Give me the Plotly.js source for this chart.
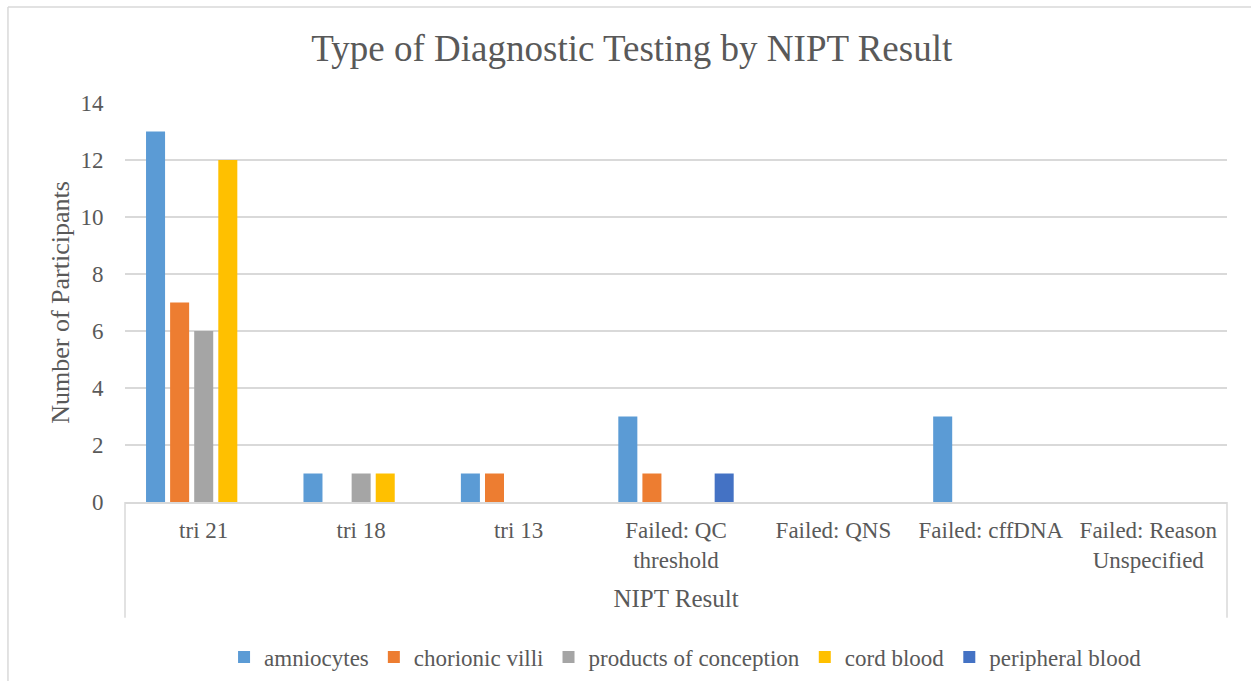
<!DOCTYPE html>
<html>
<head>
<meta charset="utf-8">
<script src="https://cdn.plot.ly/plotly-3.0.1.min.js"></script>
<style>html,body{margin:0;padding:0;background:#fff;}#chart{width:1251px;height:681px;}</style>
</head>
<body>
<div id="chart"></div>
<script>
const categories = ["tri 21", "tri 18", "tri 13", "Failed: QC<br>threshold", "Failed: QNS", "Failed: cffDNA", "Failed: Reason<br>Unspecified"];
const seriesNames = ["amniocytes", "chorionic villi", "products of conception", "cord blood", "peripheral blood"];
const amniocytes = [13, 1, 1, 3, 0, 3, 0];
const chorionicVilli = [7, 0, 1, 1, 0, 0, 0];
const productsOfConception = [6, 1, 0, 0, 0, 0, 0];
const cordBlood = [12, 1, 0, 0, 0, 0, 0];
const peripheralBlood = [0, 0, 0, 1, 0, 0, 0];
const yTicks = [0, 2, 4, 6, 8, 10, 12, 14];

const seriesValues = [amniocytes, chorionicVilli, productsOfConception, cordBlood, peripheralBlood];
const colors = ["#5B9BD5", "#ED7D31", "#A5A5A5", "#FFC000", "#4472C4"];
const FONT = "Liberation Serif";
const TXT = "#595959";
const LINE = "#D9D9D9";

const traces = seriesNames.map((name, i) => ({
  type: "bar",
  name: name,
  x: categories,
  y: seriesValues[i],
  marker: {color: colors[i], line: {width: 0}},
  hoverinfo: "x+y+name"
}));

const layout = {
  width: 1251,
  height: 681,
  paper_bgcolor: "#ffffff",
  plot_bgcolor: "#ffffff",
  margin: {l: 125, r: 24, t: 103, b: 179, pad: 0},
  barmode: "group",
  bargap: 0.235,
  bargroupgap: 0.21,
  font: {family: FONT, color: TXT, size: 23},
  title: {
    text: "Type of Diagnostic Testing by NIPT Result",
    font: {family: FONT, size: 37, color: TXT},
    x: 0.505, xref: "container", xanchor: "center",
    y: 0.93, yref: "container", yanchor: "middle"
  },
  xaxis: {
    type: "category",
    showgrid: false,
    showline: true,
    linecolor: LINE,
    linewidth: 1.5,
    ticks: "outside",
    ticklen: 7,
    tickcolor: "rgba(0,0,0,0)",
    tickfont: {family: FONT, size: 23, color: TXT},
    automargin: false,
    title: {text: "NIPT Result", font: {family: FONT, size: 25, color: TXT}, standoff: 17}
  },
  yaxis: {
    range: [0, 14],
    tickvals: yTicks,
    showgrid: true,
    gridcolor: LINE,
    gridwidth: 1.5,
    zeroline: false,
    showline: false,
    ticks: "outside",
    ticklen: 16,
    tickcolor: "rgba(0,0,0,0)",
    tickfont: {family: FONT, size: 23, color: TXT},
    automargin: false,
    title: {text: "Number of Participants", font: {family: FONT, size: 26, color: TXT}, standoff: 3}
  },
  legend: {
    orientation: "h",
    xref: "container", x: 0.548, xanchor: "center",
    yref: "container", y: 0.035, yanchor: "middle",
    font: {family: FONT, size: 23, color: TXT},
    bgcolor: "rgba(0,0,0,0)",
    itemclick: false
  },
  shapes: [
    {type: "line", xref: "paper", yref: "paper", x0: 0, x1: 0, y0: 0, y1: -0.29, line: {color: LINE, width: 1.5}},
    {type: "line", xref: "paper", yref: "paper", x0: 1, x1: 1, y0: 0, y1: -0.29, line: {color: LINE, width: 1.5}},
    {type: "line", xref: "paper", yref: "paper", x0: -0.1062, x1: -0.1062, y0: -0.6, y1: 1.2406, line: {color: LINE, width: 1.5}},
    {type: "line", xref: "paper", yref: "paper", x0: -0.1062, x1: 1.2, y0: 1.2406, y1: 1.2406, line: {color: LINE, width: 1.5}}
  ]
};

Plotly.newPlot("chart", traces, layout, {displayModeBar: false, staticPlot: false});
</script>
</body>
</html>
